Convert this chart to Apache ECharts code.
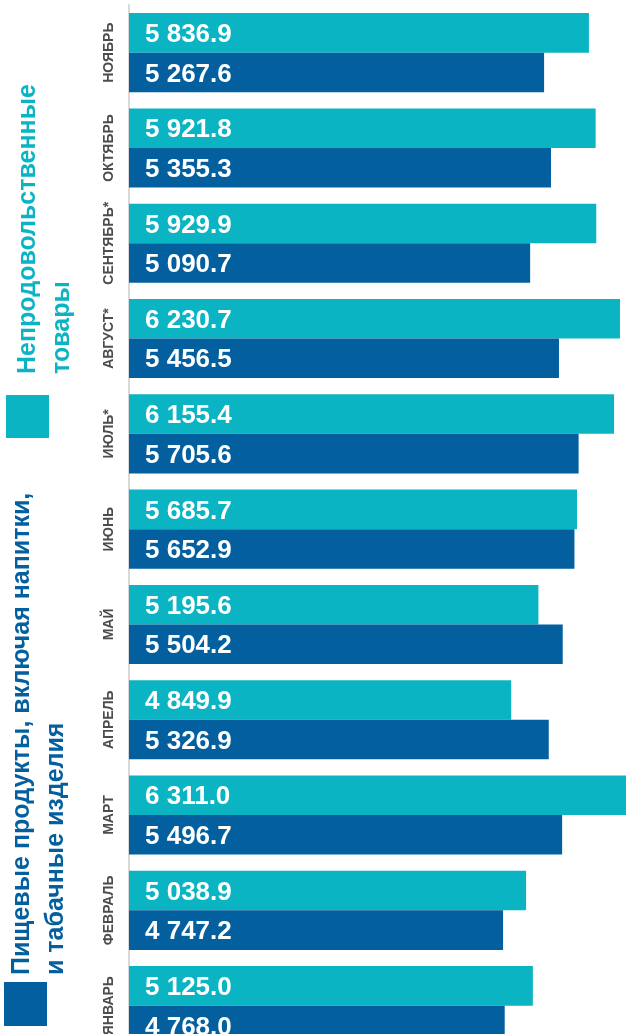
<!DOCTYPE html>
<html>
<head>
    <meta charset="UTF-8"/>
    <script type="text/javascript" src="https://cdn.jsdelivr.net/npm/echarts@6/dist/echarts.min.js"></script>
    <style>
        html, body { margin: 0; padding: 0; background: #fff; }
        #main { width: 626px; height: 1034px; }
    </style>
</head>
<body>
<div id="main"></div>
<script type="text/javascript">
    // месяцы снизу вверх (январь внизу)
    var months = ['ЯНВАРЬ', 'ФЕВРАЛЬ', 'МАРТ', 'АПРЕЛЬ', 'МАЙ', 'ИЮНЬ', 'ИЮЛЬ*', 'АВГУСТ*', 'СЕНТЯБРЬ*', 'ОКТЯБРЬ', 'НОЯБРЬ'];
    // пищевые продукты, включая напитки, и табачные изделия
    var food = [4768.0, 4747.2, 5496.7, 5326.9, 5504.2, 5652.9, 5705.6, 5456.5, 5090.7, 5355.3, 5267.6];
    // непродовольственные товары
    var nonFood = [5125.0, 5038.9, 6311.0, 4849.9, 5195.6, 5685.7, 6155.4, 6230.7, 5929.9, 5921.8, 5836.9];

    var foodName = 'Пищевые продукты, включая напитки,\nи табачные изделия';
    var nonFoodName = 'Непродовольственные\nтовары';

    var cyan = '#0bb4c3';
    var blue = '#035f9e';
    var font = '"Liberation Sans", Arial, sans-serif';

    function fmt(p) {
        var s = p.value.toFixed(1).split('.');
        return s[0].replace(/\B(?=(\d{3})+(?!\d))/g, ' ') + '.' + s[1];
    }

    var barLabel = {
        show: true,
        position: 'insideLeft',
        distance: 16,
        offset: [0, 2],
        color: '#fff',
        fontSize: 26,
        fontWeight: 'bold',
        fontFamily: font,
        formatter: fmt
    };

    var myChart = echarts.init(document.getElementById('main'));
    var option = {
        animation: false,
        // сетка больше окна: нижний месяц и длинный столбец обрезаны, как в оригинале
        grid: { left: 129, top: 5, width: 551.6, height: 1048.3, outerBoundsMode: 'none' },
        xAxis: {
            type: 'value',
            min: 0,
            max: 7000,
            show: false
        },
        yAxis: {
            type: 'category',
            data: months,
            axisLine: { show: true, lineStyle: { color: '#d9d9d9', width: 2 } },
            axisTick: { show: false },
            axisLabel: {
                rotate: 90,
                margin: 13,
                color: '#4d4d4d',
                fontSize: 14,
                fontWeight: 'bold',
                fontFamily: font,
                interval: 0
            }
        },
        series: [{
            name: nonFoodName,
            type: 'bar',
            data: nonFood,
            itemStyle: { color: cyan },
            barGap: '0%',
            barCategoryGap: '17%',
            label: barLabel
        }, {
            name: foodName,
            type: 'bar',
            data: food,
            itemStyle: { color: blue },
            barGap: '0%',
            barCategoryGap: '17%',
            label: barLabel
        }],
        // легенда повернута на 90 градусов
        graphic: [{
            type: 'rect',
            shape: { x: 6, y: 395, width: 43, height: 43 },
            style: { fill: cyan }
        }, {
            type: 'text',
            x: 11, y: 374,
            rotation: Math.PI / 2,
            style: {
                text: nonFoodName,
                fill: cyan,
                font: 'bold 25px ' + font,
                lineHeight: 34,
                textAlign: 'left',
                textVerticalAlign: 'top'
            }
        }, {
            type: 'rect',
            shape: { x: 4, y: 982, width: 43, height: 44 },
            style: { fill: blue }
        }, {
            type: 'text',
            x: 5, y: 975,
            rotation: Math.PI / 2,
            style: {
                text: foodName,
                fill: blue,
                font: 'bold 25px ' + font,
                lineHeight: 34,
                textAlign: 'left',
                textVerticalAlign: 'top'
            }
        }]
    };
    myChart.setOption(option);
</script>
</body>
</html>
